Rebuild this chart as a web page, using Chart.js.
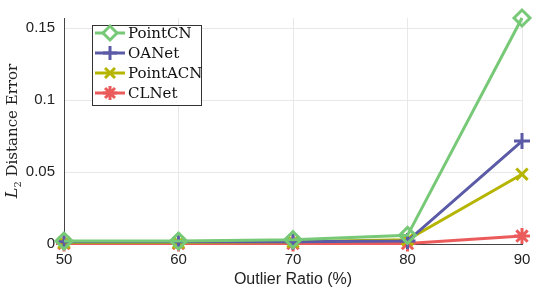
<!DOCTYPE html>
<html>
<head>
<meta charset="utf-8">
<script src="https://cdn.jsdelivr.net/npm/chart.js@4/dist/chart.umd.min.js"></script>
<style>
  html, body { margin: 0; padding: 0; background: #fff; }
  #wrap { width: 540px; height: 293px; }
</style>
</head>
<body>
<div id="wrap"><canvas id="chart" width="540" height="293"></canvas></div>
<script>
const outlierRatios = [50, 60, 70, 80, 90];
const pointCN  = [0.002, 0.002, 0.003, 0.006, 0.157];
const oaNet    = [0.0015, 0.0015, 0.0015, 0.002, 0.0715];
const pointACN = [0.001, 0.001, 0.0015, 0.003, 0.0485];
const clNet    = [0.0003, 0.0003, 0.0003, 0.0003, 0.0055];
const yTicks = [0, 0.05, 0.1, 0.15];

const seriesNames = ['PointCN', 'OANet', 'PointACN', 'CLNet'];
const seriesColors = ['#77c977', '#5a5aa6', '#b5b500', '#ec5b5b'];
const seriesMarkers = ['rectRot', 'cross', 'crossRot', 'star'];
const seriesValues = [pointCN, oaNet, pointACN, clNet];

const toPoints = vals => vals.map((v, i) => ({ x: outlierRatios[i], y: v }));

// draw the matlab-ish legend box (line + marker + serif label)
const boxLegend = {
  id: 'boxLegend',
  afterDraw(chart) {
    const ctx = chart.ctx;
    const x0 = 92, y0 = 25, w = 109, h = 80;
    ctx.save();
    ctx.fillStyle = '#fff';
    ctx.fillRect(x0, y0, w, h);
    ctx.strokeStyle = '#333';
    ctx.lineWidth = 1;
    ctx.strokeRect(x0 + 0.5, y0 + 0.5, w, h);
    chart.data.datasets.forEach((ds, i) => {
      const cy = 33 + i * 20;
      ctx.strokeStyle = ds.borderColor;
      ctx.lineWidth = 3;
      ctx.beginPath();
      ctx.moveTo(95, cy);
      ctx.lineTo(125, cy);
      ctx.stroke();
      Chart.helpers.drawPoint(ctx, {
        pointStyle: ds.pointStyle, radius: 7, borderWidth: 3, rotation: 0
      }, 110, cy);
      ctx.fillStyle = '#111';
      ctx.font = '15px "DejaVu Serif", serif';
      ctx.textBaseline = 'middle';
      ctx.fillText(ds.label, 128, cy + 1);
    });
    ctx.restore();
  }
};

// y title with italic L and subscript 2
const yTitle = {
  id: 'yTitle',
  afterDraw(chart) {
    const ctx = chart.ctx;
    const area = chart.chartArea;
    ctx.save();
    ctx.translate(13, (area.top + area.bottom) / 2);
    ctx.rotate(-Math.PI / 2);
    ctx.fillStyle = '#222';
    ctx.textBaseline = 'middle';
    const f1 = 'italic 16px "DejaVu Serif", serif';
    const f2 = '10px "DejaVu Serif", serif';
    const f3 = '15px "DejaVu Serif", serif';
    const rest = ' Distance Error';
    ctx.font = f1; const wL = ctx.measureText('L').width;
    ctx.font = f2; const w2 = ctx.measureText('2').width;
    ctx.font = f3; const wR = ctx.measureText(rest).width;
    let x = -(wL + w2 + wR) / 2;
    ctx.font = f1; ctx.fillText('L', x, 0); x += wL;
    ctx.font = f2; ctx.fillText('2', x, 5); x += w2;
    ctx.font = f3; ctx.fillText(rest, x, 0);
    ctx.restore();
  }
};

const ctx = document.getElementById('chart').getContext('2d');
const chart = new Chart(ctx, {
  type: 'line',
  data: {
    datasets: seriesNames.map((name, i) => ({
      label: name,
      data: toPoints(seriesValues[i]),
      borderColor: seriesColors[i],
      backgroundColor: 'rgba(0,0,0,0)',
      borderWidth: 3,
      pointStyle: seriesMarkers[i],
      pointRadius: 8,
      pointBorderWidth: 3,
      pointBorderColor: seriesColors[i],
      pointBackgroundColor: 'rgba(0,0,0,0)',
      tension: 0,
      clip: false
    }))
  },
  options: {
    responsive: false,
    animation: false,
    layout: { padding: { top: 15, right: 18, left: 0, bottom: 0 } },
    plugins: { legend: { display: false }, tooltip: { enabled: false } },
    scales: {
      x: {
        type: 'linear',
        min: 50,
        max: 90,
        afterBuildTicks: s => { s.ticks = outlierRatios.map(v => ({ value: v })); },
        afterFit: s => { s.height = 49; },
        grid: { color: '#e8e8e8', drawTicks: false },
        border: { color: '#444', width: 1 },
        ticks: {
          padding: 7,
          color: '#222',
          font: { family: '"Liberation Sans", Arial, sans-serif', size: 15 },
          callback: v => String(v)
        },
        title: {
          display: true,
          text: 'Outlier Ratio (%)',
          color: '#222',
          padding: { top: 4 },
          font: { family: '"Liberation Sans", Arial, sans-serif', size: 16 }
        }
      },
      y: {
        min: 0,
        max: 0.157,
        afterBuildTicks: s => { s.ticks = yTicks.map(v => ({ value: v })); },
        afterFit: s => { s.width = 64; },
        grid: { color: '#e8e8e8', drawTicks: false },
        border: { color: '#444', width: 1 },
        ticks: {
          padding: 9,
          color: '#222',
          font: { family: '"Liberation Sans", Arial, sans-serif', size: 15 },
          callback: v => String(v)
        }
      }
    }
  },
  plugins: [boxLegend, yTitle]
});
</script>
</body>
</html>
